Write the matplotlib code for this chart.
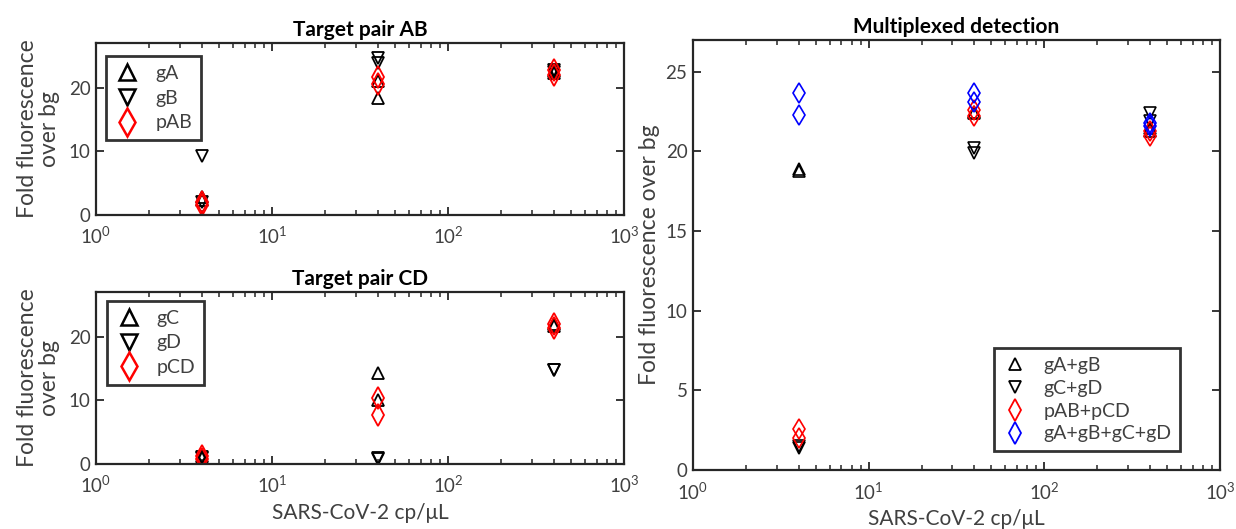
import numpy as np
import matplotlib as mpl
import matplotlib.pyplot as plt

plt.rcParams['font.family'] = ['Lato', 'DejaVu Sans']

# concentrations (cp/uL), two replicates each
conc = [4, 4, 40, 40, 400, 400]

# Target pair AB
gA = [2.8, 2.3, 21.1, 18.3, 22.3, 22.6]
gB = [9.3, 2.0, 24.6, 23.8, 22.8, 22.4]
pAB = [2.0, 1.5, 21.6, 20.6, 22.7, 22.0]

# Target pair CD
gC = [1.2, 1.0, 14.3, 10.0, 22.0, 21.7]
gD = [1.0, 1.1, 0.8, 0.9, 14.8, 14.7]
pCD = [1.2, 0.8, 10.3, 7.7, 22.0, 21.3]

# Multiplexed detection
gAgB = [18.8, 18.9, 22.5, 22.4, 21.3, 21.5]
gCgD = [1.4, 1.5, 20.2, 19.9, 22.4, 21.9]
pABpCD = [2.6, 2.0, 22.6, 22.2, 21.0, 21.3]
gAll = [23.7, 22.3, 23.7, 23.1, 21.6, 21.8]

xlabel = 'SARS-CoV-2 cp/\u03bcL'
ylabel = 'Fold fluorescence\nover bg'

spine_col = '#262626'
text_col = '#404040'


def style_axes(ax):
    ax.set_xscale('log')
    ax.set_xlim(1, 1000)
    ax.set_ylim(0, 27)
    for s in ax.spines.values():
        s.set_linewidth(1.6)
        s.set_color(spine_col)
    ax.tick_params(which='both', direction='in', top=True, right=True,
                   colors=spine_col, labelcolor=text_col, labelsize=13.5)
    ax.tick_params(which='major', length=6, width=1.3)
    ax.tick_params(which='minor', length=3.5, width=1.1)
    ax.tick_params(axis='x', which='major', pad=8)
    ax.tick_params(axis='y', which='major', pad=4)
    ax.xaxis.set_minor_locator(mpl.ticker.LogLocator(base=10, subs=np.arange(2, 10)))


def add_legend(ax, loc, bbox, mscale=1.0, spacing=0.35, mew=1.8):
    leg = ax.legend(loc=loc, bbox_to_anchor=bbox, fontsize=14, frameon=True,
                    fancybox=False, handletextpad=0.8, borderpad=0.45,
                    labelspacing=spacing, handlelength=1.3, borderaxespad=0,
                    markerscale=mscale)
    leg.get_frame().set_edgecolor('black')
    leg.get_frame().set_linewidth(2)
    for t in leg.get_texts():
        t.set_color(text_col)
    for h in leg.legend_handles:
        h.set_markeredgewidth(mew)
    return leg


fig = plt.figure(figsize=(12.36, 5.29), dpi=100)
ax1 = fig.add_axes([0.0777, 0.5936, 0.4272, 0.3251])
ax2 = fig.add_axes([0.0777, 0.1229, 0.4272, 0.3251])
ax3 = fig.add_axes([0.5607, 0.1115, 0.4263, 0.8129])

tri = dict(ls='none', mfc='none', mec='black', mew=1.3, ms=9)
dia = dict(ls='none', mfc='none', mec='red', mew=1.3, ms=11, marker='d')

# top left
ax1.plot(conc, gA, marker='^', label='gA', **tri)
ax1.plot(conc, gB, marker='v', label='gB', **tri)
ax1.plot(conc, pAB, label='pAB', **dia)
style_axes(ax1)
ax1.set_yticks([0, 10, 20])
ax1.set_title('Target pair AB', fontsize=15, fontweight='bold', pad=5)
ax1.set_ylabel(ylabel, fontsize=16.5, color=text_col, labelpad=6, linespacing=1.1)
add_legend(ax1, 'upper left', (0.019, 0.924), mscale=1.25, spacing=0.4)

# bottom left
ax2.plot(conc, gC, marker='^', label='gC', **tri)
ax2.plot(conc, gD, marker='v', label='gD', **tri)
ax2.plot(conc, pCD, label='pCD', **dia)
style_axes(ax2)
ax2.set_yticks([0, 10, 20])
ax2.set_title('Target pair CD', fontsize=15, fontweight='bold', pad=5)
ax2.set_ylabel(ylabel, fontsize=16.5, color=text_col, labelpad=6, linespacing=1.1)
ax2.set_xlabel(xlabel, fontsize=15, color=text_col, labelpad=5)
add_legend(ax2, 'upper left', (0.021, 0.948), mscale=1.25, spacing=0.4)

# right
tri_s = dict(tri, ms=8, mew=1.2)
ax3.plot(conc, gAgB, marker='^', label='gA+gB', **tri_s)
ax3.plot(conc, gCgD, marker='v', label='gC+gD', **tri_s)
ax3.plot(conc, pABpCD, ls='none', mfc='none', mec='red', mew=1.2, ms=10,
         marker='d', label='pAB+pCD')
ax3.plot(conc, gAll, ls='none', mfc='none', mec='blue', mew=1.2, ms=10,
         marker='d', label='gA+gB+gC+gD')
style_axes(ax3)
ax3.set_yticks([0, 5, 10, 15, 20, 25])
ax3.set_title('Multiplexed detection', fontsize=15, fontweight='bold', pad=5)
ax3.set_ylabel('Fold fluorescence over bg', fontsize=16.5, color=text_col, labelpad=4)
ax3.set_xlabel(xlabel, fontsize=15, color=text_col, labelpad=5)
add_legend(ax3, 'lower right', (0.924, 0.044), mscale=1.1, spacing=0.3, mew=1.3)

fig.savefig('out.png', dpi=100)
